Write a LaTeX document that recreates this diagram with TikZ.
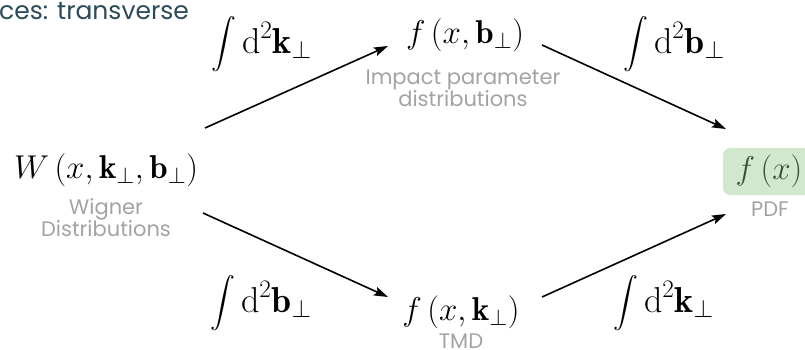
\RequirePackage{fix-cm}
\documentclass[tikz,border=0pt]{standalone}
\usepackage{exscale}
\usepackage{fontspec}
\newfontfamily\labelfont{Poppins}
\usetikzlibrary{arrows.meta}
\definecolor{lbl}{HTML}{A3A3A3}
\definecolor{ttl}{HTML}{2B4A5B}
\definecolor{pdfbg}{HTML}{D2E8CD}
\definecolor{pdftx}{HTML}{34503A}
\begin{document}
\begin{tikzpicture}[x=1pt,y=-1pt,
  mathnode/.style={inner sep=0pt, font=\fontsize{33}{40}\selectfont},
  intnode/.style={inner sep=0pt, anchor=west, font=\fontsize{36}{42}\selectfont},
  lab/.style={inner sep=0pt, font=\labelfont\fontsize{21}{21.5}\selectfont, text=lbl, align=center},
  arr/.style={line width=1.6pt, -{Stealth[length=14pt,width=9pt,inset=2.5pt]}}]
\useasboundingbox (0,0) rectangle (805,349);
\clip (0,0) rectangle (805,349);

\node[anchor=base west, inner sep=0pt, text=ttl, font=\labelfont\fontsize{25}{28}\selectfont] (title) at (-1,19) {ces: transverse};

% main nodes
\node[mathnode] (W) at (106,170) {$W\left(x,\mathbf{k}_\perp,\mathbf{b}_\perp\right)$};
\node[lab, anchor=north] (Wl) at (106,198) {Wigner\\Distributions};

\node[mathnode] (fb) at (465,35) {$f\left(x,\mathbf{b}_\perp\right)$};
\node[lab, anchor=north] (fbl) at (463,70) {Impact parameter\\distributions};

\node[mathnode] (fk) at (461,312) {$f\left(x,\mathbf{k}_\perp\right)$};
\node[lab, anchor=north] (fkl) at (461,334) {TMD};

\node[mathnode, fill=pdfbg, rounded corners=7pt, minimum width=92pt, minimum height=47pt, text=pdftx] (pdf) at (769,171.5) {$f\left(x\right)$};
\node[lab, anchor=north] (pdfl) at (770,202) {PDF};

% integrals
\node[intnode] (i1) at (211,44) {$\displaystyle\int \mathrm{d}^2\mathbf{k}_\perp$};
\node[intnode] (i2) at (623,44) {$\displaystyle\int \mathrm{d}^2\mathbf{b}_\perp$};
\node[intnode] (i3) at (210,303) {$\displaystyle\int \mathrm{d}^2\mathbf{b}_\perp$};
\node[intnode] (i4) at (613,303) {$\displaystyle\int \mathrm{d}^2\mathbf{k}_\perp$};

% arrow endpoints
\coordinate (a1s) at (205,128);
\coordinate (a1e) at (388,46);
\coordinate (a2s) at (542,45);
\coordinate (a2e) at (726,129);
\coordinate (a3s) at (203,213);
\coordinate (a3e) at (388,297);
\coordinate (a4s) at (542,297);
\coordinate (a4e) at (726,214);

\draw[arr] (a1s) -- (a1e);
\draw[arr] (a2s) -- (a2e);
\draw[arr] (a3s) -- (a3e);
\draw[arr] (a4s) -- (a4e);
\end{tikzpicture}
\end{document}
